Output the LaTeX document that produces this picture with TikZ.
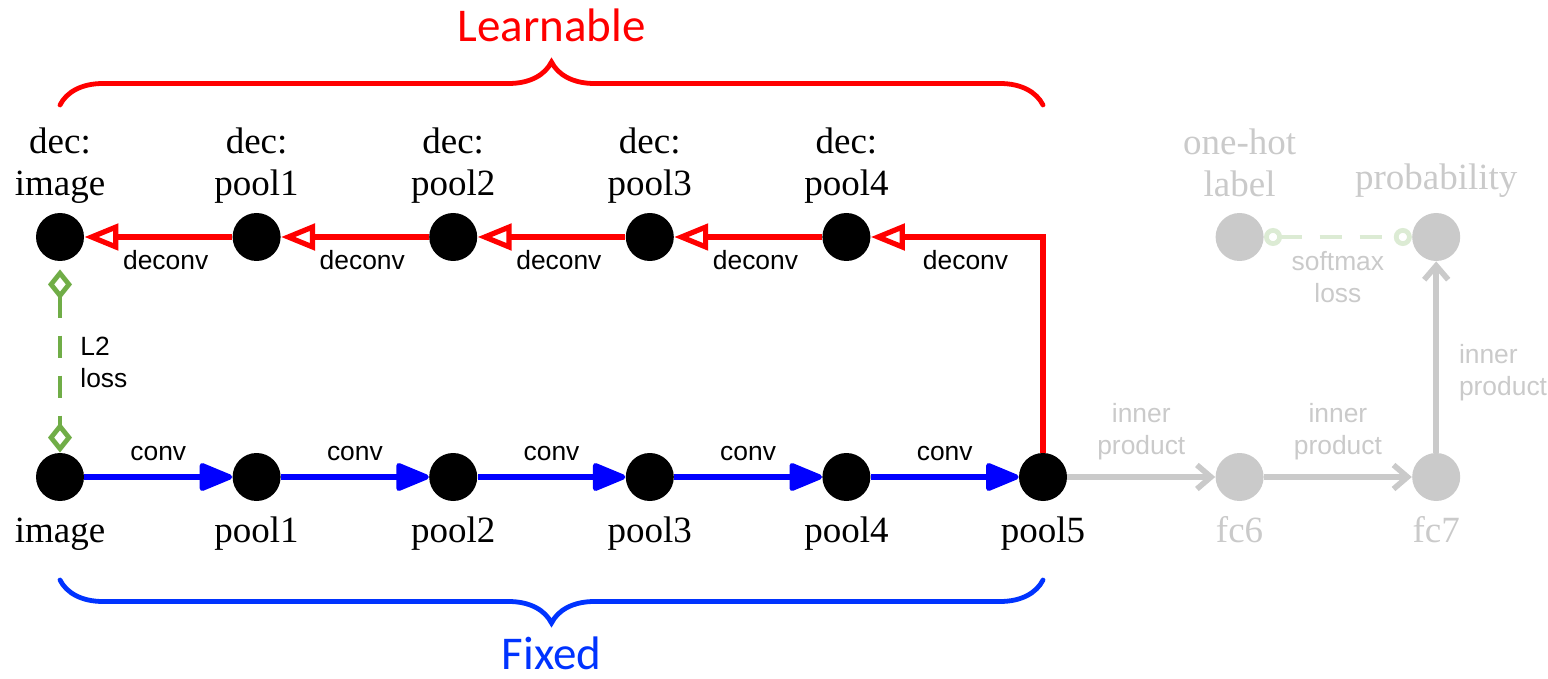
\documentclass[tikz,border=0pt]{standalone}
\usepackage{fontspec}
\setmainfont{Liberation Serif}
\setsansfont{Liberation Sans}
\newfontfamily\bracefont{Carlito}
\usepackage{tikz}
\usetikzlibrary{arrows.meta,decorations.pathreplacing,positioning}

\definecolor{convblue}{RGB}{0,0,255}
\definecolor{fixblue}{RGB}{0,51,255}
\definecolor{learnred}{RGB}{255,0,0}
\definecolor{lossgreen}{RGB}{112,173,71}
\definecolor{fadegray}{RGB}{202,202,202}
\definecolor{fadegreen}{RGB}{220,235,212}

\begin{document}
\begin{tikzpicture}[x=0.5pt, y=-0.5pt, node distance=98.3pt, on grid,
  layer/.style={circle, fill=black, minimum size=24pt, inner sep=0pt},
  faded/.style={layer, fill=fadegray},
  lname/.style={font=\fontsize{18.5pt}{21pt}\selectfont, align=center, inner sep=0pt, anchor=base},
  ename/.style={font=\sffamily\fontsize{13.2pt}{16pt}\selectfont, align=center, inner sep=0pt},
  convarrow/.style={draw=convblue, line width=2.6pt, -{Triangle[length=18.5pt, width=14.5pt, round]}},
  deconvarrow/.style={draw=learnred, line width=2.6pt, -{Triangle[open, length=17pt, width=13pt]}},
  fcarrow/.style={draw=fadegray, line width=2.8pt, -{Straight Barb[length=7pt, width=12pt]}},
  l2loss/.style={draw=lossgreen, line width=2.4pt, dash pattern=on 11pt off 9pt,
    {Diamond[open, length=15pt, width=12pt]}-{Diamond[open, length=15pt, width=12pt]}},
  smloss/.style={draw=fadegreen, line width=2.4pt, dash pattern=on 11pt off 9pt,
    {Circle[open, length=9pt]}-{Circle[open, length=9pt]}},
  bracket/.style={decorate, decoration={brace, amplitude=21.5pt}, line width=2.4pt, line cap=round}]
  \useasboundingbox (0,0) rectangle (1548,679);

  % encoder (fixed)
  \node[layer] (image) at (60,477) {};
  \node[layer, right=of image] (pool1) {};
  \node[layer, right=of pool1] (pool2) {};
  \node[layer, right=of pool2] (pool3) {};
  \node[layer, right=of pool3] (pool4) {};
  \node[layer, right=of pool4] (pool5) {};
  \node[faded, right=of pool5] (fc6) {};
  \node[faded, right=of fc6] (fc7) {};

  % decoder (learnable)
  \node[layer, above=120pt of image] (dimage) {};
  \node[layer, above=120pt of pool1] (dpool1) {};
  \node[layer, above=120pt of pool2] (dpool2) {};
  \node[layer, above=120pt of pool3] (dpool3) {};
  \node[layer, above=120pt of pool4] (dpool4) {};
  \node[faded, above=120pt of fc6] (onehot) {};
  \node[faded, above=120pt of fc7] (prob) {};

  % layer names
  \foreach \n in {image,pool1,pool2,pool3,pool4,pool5}
    \node[lname] (t-\n) at ([yshift=-32.5pt]\n.center) {\n};
  \node[lname, text=fadegray] (t-fc6) at ([yshift=-32.5pt]fc6.center) {fc6};
  \node[lname, text=fadegray] (t-fc7) at ([yshift=-32.5pt]fc7.center) {fc7};
  \node[lname] (t-dimage) at ([yshift=20.5pt]dimage.center) {dec:\\image};
  \node[lname] (t-dpool1) at ([yshift=20.5pt]dpool1.center) {dec:\\pool1};
  \node[lname] (t-dpool2) at ([yshift=20.5pt]dpool2.center) {dec:\\pool2};
  \node[lname] (t-dpool3) at ([yshift=20.5pt]dpool3.center) {dec:\\pool3};
  \node[lname] (t-dpool4) at ([yshift=20.5pt]dpool4.center) {dec:\\pool4};
  \node[lname, text=fadegray] (t-onehot) at ([yshift=20pt]onehot.center) {one-hot\\label};
  \node[lname, text=fadegray] (t-prob) at ([yshift=23.5pt]prob.center) {probability};

  % forward pass
  \draw[convarrow] (image) -- node[ename, anchor=base, yshift=8.5pt] (c1) {conv} (pool1);
  \draw[convarrow] (pool1) -- node[ename, anchor=base, yshift=8.5pt] (c2) {conv} (pool2);
  \draw[convarrow] (pool2) -- node[ename, anchor=base, yshift=8.5pt] (c3) {conv} (pool3);
  \draw[convarrow] (pool3) -- node[ename, anchor=base, yshift=8.5pt] (c4) {conv} (pool4);
  \draw[convarrow] (pool4) -- node[ename, anchor=base, yshift=8.5pt] (c5) {conv} (pool5);

  % reconstruction
  \draw[deconvarrow] (pool5) |- node[ename, pos=0.725, anchor=base, yshift=-16.5pt] (d5) {deconv} (dpool4);
  \draw[deconvarrow] (dpool4) -- node[ename, pos=0.45, anchor=base, yshift=-16.5pt] (d4) {deconv} (dpool3);
  \draw[deconvarrow] (dpool3) -- node[ename, pos=0.45, anchor=base, yshift=-16.5pt] (d3) {deconv} (dpool2);
  \draw[deconvarrow] (dpool2) -- node[ename, pos=0.45, anchor=base, yshift=-16.5pt] (d2) {deconv} (dpool1);
  \draw[deconvarrow] (dpool1) -- node[ename, pos=0.45, anchor=base, yshift=-16.5pt] (d1) {deconv} (dimage);
  \draw[l2loss, shorten <=4pt] (dimage) -- node[ename, align=left, anchor=west, xshift=9pt, yshift=-2.5pt] (l2) {L2\\loss} (image);

  % classifier (faded)
  \draw[fcarrow] (pool5) -- node[ename, text=fadegray, anchor=south, yshift=7pt] (ip1) {inner\\product} (fc6);
  \draw[fcarrow] (fc6) -- node[ename, text=fadegray, anchor=south, yshift=7pt] (ip2) {inner\\product} (fc7);
  \draw[fcarrow] (fc7) -- node[ename, text=fadegray, align=left, anchor=west, xshift=10pt, yshift=-8pt] (ip3) {inner\\product} (prob);
  \draw[smloss] (onehot) -- node[ename, text=fadegray, anchor=north, yshift=-6pt] (sm) {softmax\\loss} (prob);

  % braces
  \draw[bracket, learnred] ([yshift=66pt]dimage.center) -- ([yshift=66pt]dimage.center -| pool5.center)
    node[midway, anchor=base, yshift=31.5pt, font=\bracefont\fontsize{23.5pt}{26pt}\selectfont, text=learnred, inner sep=0pt] (learn) {Learnable};
  \draw[bracket, fixblue] ([yshift=-51.5pt]image.center -| pool5.center) -- ([yshift=-51.5pt]image.center)
    node[midway, anchor=base, yshift=-44.5pt, font=\bracefont\fontsize{23.5pt}{26pt}\selectfont, text=fixblue, inner sep=0pt] (fixed) {Fixed};
\end{tikzpicture}
\end{document}
